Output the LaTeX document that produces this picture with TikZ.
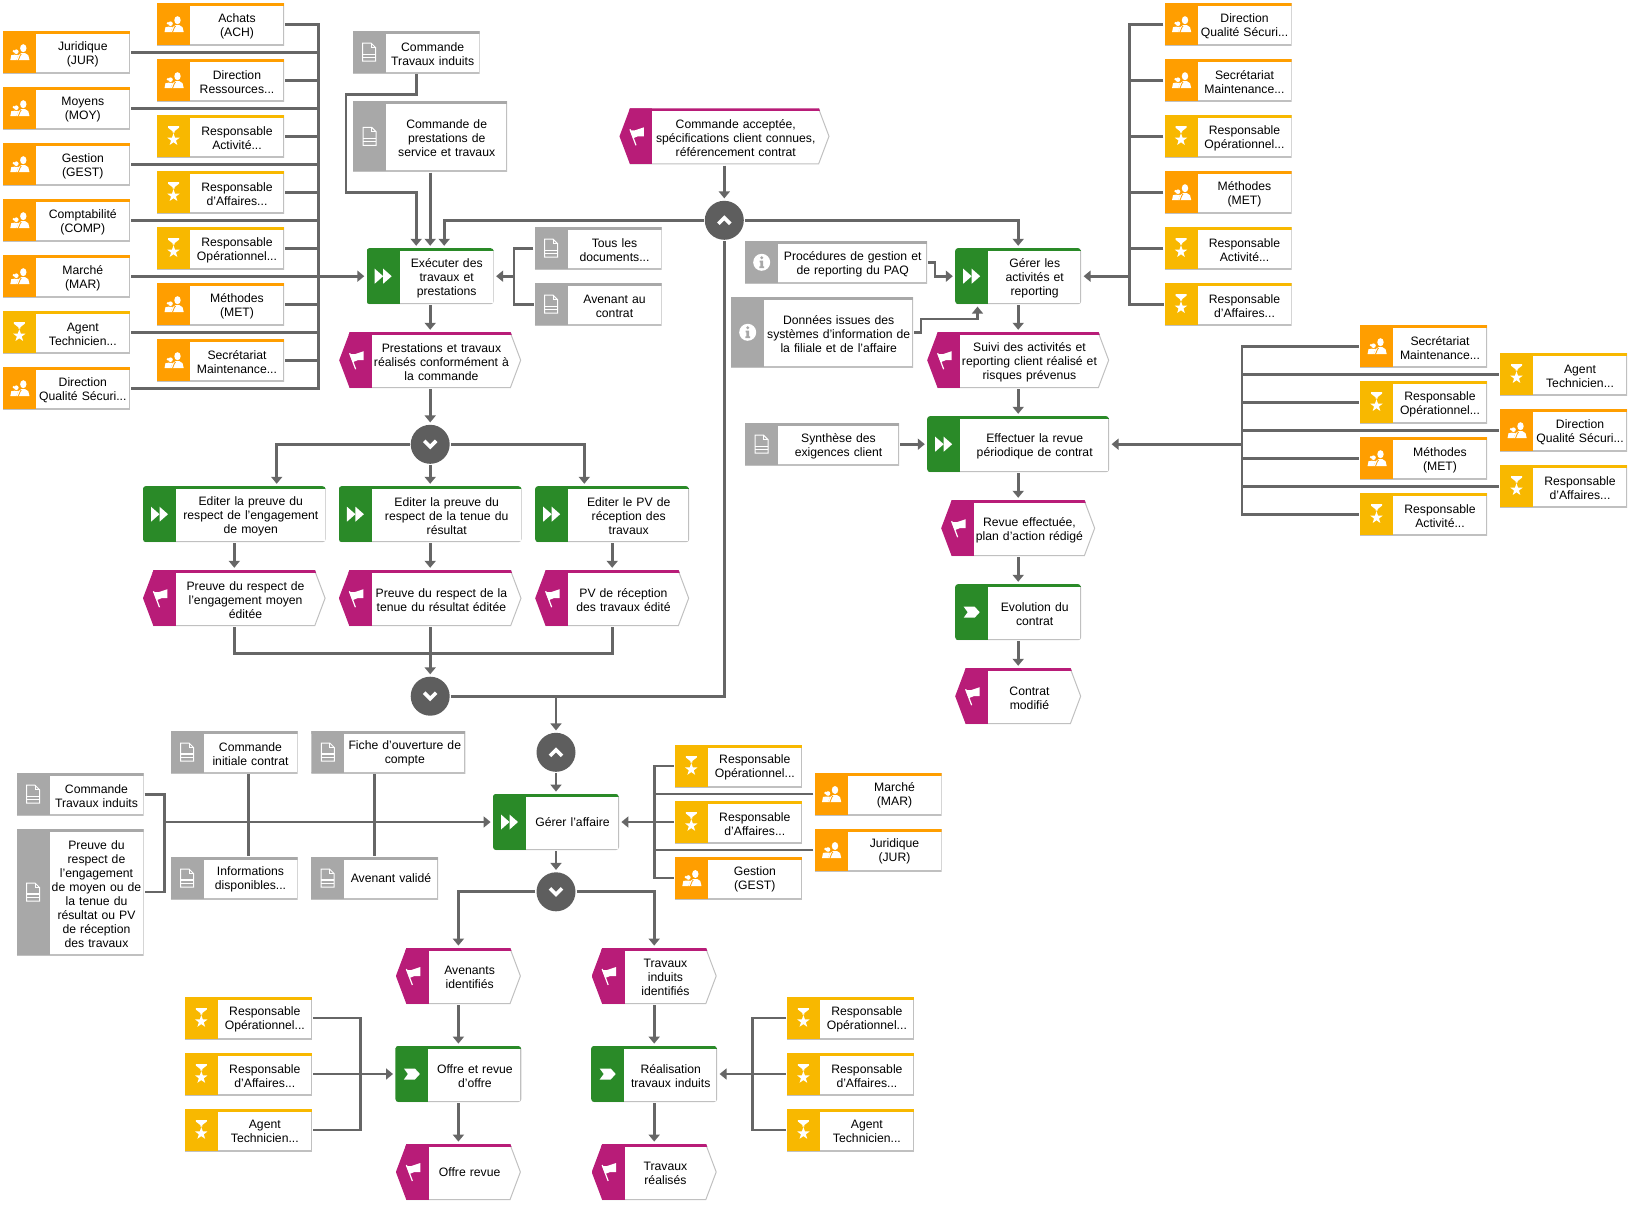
\documentclass[tikz,border=0pt]{standalone}
\usepackage{fontspec}
\setmainfont{Liberation Sans}
\usetikzlibrary{arrows.meta, positioning, shapes.symbols}
\definecolor{orgfill}{HTML}{FF9E00}
\definecolor{rolefill}{HTML}{F8B800}
\definecolor{docfill}{HTML}{A8A8A8}
\definecolor{taskfill}{HTML}{2A8A28}
\definecolor{eventfill}{HTML}{B81C78}
\definecolor{connfill}{HTML}{5E5E5E}
\definecolor{linefill}{HTML}{666666}
\definecolor{boxline}{HTML}{C0C0C0}
\tikzset{%
	peopleicon/.pic={
		\fill[white] (4,-4) ellipse (3.2 and 4);
		\fill[white] (-3,8) -- (-1,3) -- (2,1) -- (6,1) -- (9,3) -- (10,7) -- (10,8) -- cycle;
		\fill[white] (-3,-0.5) circle (2.3);
		\fill[white] (-5.5,-1) circle (1.3);
		\fill[white] (-9,8) -- (-8,3) -- (-5,2.5) -- (-1,2.8) -- (-3,8) -- cycle;
		\draw[orgfill, line width=0.8pt] (-1,8) -- (1,3) -- (2,2);
	},
	staricon/.pic={
		\fill[white] (-5.5,-10) -- (5.5,-10) -- (5.5,-8.5) -- (1,-5) -- (1,-3.5) -- (-1,-3.5) -- (-1,-5) -- (-5.5,-8.5) -- cycle;
		\fill[white, shift={(0,3.5)}] (-90:6.5) -- (-54:2.6) -- (-18:6.5) -- (18:2.6) -- (54:6.5) -- (90:2.6) -- (126:6.5) -- (162:2.6) -- (198:6.5) -- (234:2.6) -- cycle;
	},
	docicon/.pic={
		\draw[white, line width=1pt] (-6.5,-9) -- (2,-9) -- (6.5,-4.5) -- (6.5,9) -- (-6.5,9) -- cycle;
		\draw[white, line width=1pt] (2,-9) -- (2,-4.5) -- (6.5,-4.5);
		\draw[white, line width=1.3pt] (-6.5,2) -- (6.5,2);
		\draw[white, line width=1.3pt] (-6.5,5.5) -- (6.5,5.5);
	},
	infoicon/.pic={
		\fill[white] (0,0) circle (8.5);
		\fill[docfill] (0,-4.5) circle (1.6);
		\fill[docfill] (-2.2,-1.6) -- (1.4,-1.6) -- (1.4,4) -- (2.4,4) -- (2.4,5.8) -- (-2.4,5.8) -- (-2.4,4) -- (-1.4,4) -- (-1.4,0) -- (-2.2,0) -- cycle;
	},
	flagicon/.pic={
		\fill[white] (-7,-6) -- (-2,-6) -- (7,-9) -- (7,0) -- (1,0) -- (-4,2) -- cycle;
		\draw[white, line width=1.2pt] (-7,-7) -- (-1,9);
	},
	fasticon/.pic={
		\fill[white, sharp corners] (-8.5,-7.5) -- (0,0) -- (-8.5,7.5) -- cycle;
		\fill[white, sharp corners] (0,-7.5) -- (8.5,0) -- (0,7.5) -- cycle;
	},
	stepicon/.pic={
		\fill[white, sharp corners] (-8,-5.5) -- (3,-5.5) -- (8,0) -- (3,5.5) -- (-8,5.5) -- (-4,0) -- cycle;
	},
	upicon/.pic={
		\draw[white, line width=3.6pt] (-6,3.5) -- (0,-2.5) -- (6,3.5);
	},
	downicon/.pic={
		\draw[white, line width=3.6pt] (-6,-3.5) -- (0,2.5) -- (6,-3.5);
	},
	wd/.style={minimum width=#1, text width=#1},
	tall/.style={minimum height=#1},
	element/.style 2 args={rectangle, inner sep=0pt, outer sep=0pt, align=center, fill=white,
		minimum height=42pt, wd=127pt,
		execute at begin node={\advance\leftskip by 33pt\relax},
		execute at end node={\par\kern-3.4pt},
		path picture={
			\draw[boxline, line width=2pt, sharp corners] (path picture bounding box.south west) -- (path picture bounding box.south east) -- (path picture bounding box.north east);
			\fill[#1, sharp corners] (path picture bounding box.north west) rectangle ([xshift=33pt]path picture bounding box.south west);
			\fill[#1, sharp corners] (path picture bounding box.north west) rectangle ([yshift=-3pt]path picture bounding box.north east);
			\pic at ([xshift=16.5pt]path picture bounding box.west) {#2};
		}},
	orgbox/.style={element={orgfill}{peopleicon}},
	rolebox/.style={element={rolefill}{staricon}},
	docbox/.style={element={docfill}{docicon}},
	infobox/.style={element={docfill}{infoicon}},
	task/.style={element={taskfill}{fasticon}, rounded corners=3pt, minimum height=56pt},
	substep/.style={element={taskfill}{stepicon}, rounded corners=3pt, minimum height=56pt},
	event/.style={signal, signal to=east and west, signal pointer angle=138.8,
		inner sep=0pt, outer sep=0pt, align=center, fill=white, minimum height=56pt, minimum width=#1, text width=#1-21pt,
		execute at begin node={\advance\leftskip by 22.5pt\relax},
		execute at end node={\par\kern-3.4pt},
		path picture={
			\draw[boxline, line width=2pt] (path picture bounding box.south west) -- ([xshift=-10.5pt]path picture bounding box.south east) -- (path picture bounding box.east) -- ([xshift=-10.5pt]path picture bounding box.north east);
			\fill[eventfill] (path picture bounding box.north west) rectangle ([xshift=33pt]path picture bounding box.south west);
			\fill[eventfill] (path picture bounding box.north west) rectangle ([yshift=-3pt]path picture bounding box.north east);
			\pic at ([xshift=17.5pt]path picture bounding box.west) {flagicon};
		}},
	conn/.style={circle, inner sep=0pt, outer sep=0pt, minimum size=39pt, fill=connfill,
		path picture={\pic at (path picture bounding box.center) {#1};}},
	connector/.style={line width=2.7pt, draw=linefill, shorten >=1pt, shorten <=1.2pt},
	flow/.style={connector, shorten >=2.4pt, -{Triangle[length=7pt, width=11pt]}}
}
\begin{document}
\begin{tikzpicture}[x=1pt, y=-1pt, node distance=14pt, font=\fontsize{12.2}{14}\selectfont]
	\useasboundingbox (0,0) rectangle (1634,1208);

	%units around the first task
	\node[orgbox] (jur) at (66.3,52.2) {Juridique\\(JUR)};
	\node[orgbox, below=of jur] (moy) {Moyens\\(MOY)};
	\node[orgbox, below=of moy] (gest) {Gestion\\(GEST)};
	\node[orgbox, below=of gest] (comp) {Comptabilité\\(COMP)};
	\node[orgbox, below=of comp] (mar) {Marché\\(MAR)};
	\node[rolebox, below=of mar] (agt) {Agent\\Technicien...};
	\node[orgbox, below=of agt] (dirq) {Direction\\Qualité Sécuri...};
	\node[orgbox] (ach) at (220.5,24.2) {Achats\\(ACH)};
	\node[orgbox, below=of ach] (dirr) {Direction\\Ressources...};
	\node[rolebox, below=of dirr] (ract) {Responsable\\Activité...};
	\node[rolebox, below=of ract] (raff) {Responsable\\d'Affaires...};
	\node[rolebox, below=of raff] (rop) {Responsable\\Opérationnel...};
	\node[orgbox, below=of rop] (met) {Méthodes\\(MET)};
	\node[orgbox, below=of met] (sec) {Secrétariat\\Maintenance...};

	%first task
	\node[docbox] (cmdtr) at (416.2,52.2) {Commande\\Travaux induits};
	\node[docbox, wd=154pt, tall=70pt] (cmdpr) at (430.2,136.3) {Commande de\\prestations de\\service et travaux};
	\node[task] (exec) at (430.2,276.2) {Exécuter des\\travaux et\\prestations};
	\node[docbox] (tous) at (598,248.2) {Tous les\\documents...};
	\node[docbox, below=of tous] (avc) {Avenant au\\contrat};
	\node[event=182pt] (prest) at (430.2,360.2) {Prestations et travaux\\réalisés conformément à\\la commande};
	\node[conn=downicon] (c2) at (430.2,444.3) {};

	%proofs
	\node[task, wd=182.6pt] (edit1) at (234.3,514.2) {Editer la preuve du\\respect de l'engagement\\de moyen};
	\node[task, wd=182.6pt] (edit2) at (430.2,514.2) {Editer la preuve du\\respect de la tenue du\\résultat};
	\node[task, wd=154pt] (edit3) at (612.2,514.2) {Editer le PV de\\réception des\\travaux};
	\node[event=182.6pt] (pv1) at (234.3,598.2) {Preuve du respect de\\l'engagement moyen\\éditée};
	\node[event=182.6pt] (pv2) at (430.2,598.2) {Preuve du respect de la\\tenue du résultat éditée};
	\node[event=154pt] (pv3) at (612.2,598.2) {PV de réception\\des travaux édité};
	\node[conn=downicon] (c3) at (430.2,696.2) {};

	%contract side
	\node[event=210pt] (acc) at (724.5,136.3) {Commande acceptée,\\spécifications client connues,\\référencement contrat};
	\node[conn=upicon] (c1) at (724.3,220.3) {};
	\node[task, wd=126pt] (gerer) at (1018.2,276.2) {Gérer les\\activités et\\reporting};
	\node[infobox, wd=182pt] (proc) at (836.2,262.3) {Procédures de gestion et\\de reporting du PAQ};
	\node[infobox, wd=182pt, tall=70pt] (don) at (822.2,332.3) {Données issues des\\systèmes d'information de\\la filiale et de l'affaire};
	\node[event=182pt] (suivi) at (1018.2,360.2) {Suivi des activités et\\reporting client réalisé et\\risques prévenus};
	\node[task, wd=182pt] (eff) at (1018.2,444.2) {Effectuer la revue\\périodique de contrat};
	\node[docbox, wd=154pt] (syn) at (822,444.2) {Synthèse des\\exigences client};
	\node[event=154pt] (rev) at (1018.2,528.2) {Revue effectuée,\\plan d'action rédigé};
	\node[substep, wd=126pt] (evo) at (1018.2,612.2) {Evolution du\\contrat};
	\node[event=126pt] (ctr) at (1018.2,696.2) {Contrat\\modifié};

	%units of the second task
	\node[orgbox] (gdirq) at (1228,24.2) {Direction\\Qualité Sécuri...};
	\node[orgbox, below=of gdirq] (gsec) {Secrétariat\\Maintenance...};
	\node[rolebox, below=of gsec] (grop) {Responsable\\Opérationnel...};
	\node[orgbox, below=of grop] (gmet) {Méthodes\\(MET)};
	\node[rolebox, below=of gmet] (gract) {Responsable\\Activité...};
	\node[rolebox, below=of gract] (graff) {Responsable\\d'Affaires...};

	%units of the review
	\node[orgbox] (esec) at (1423.5,346.2) {Secrétariat\\Maintenance...};
	\node[rolebox, below=of esec] (erop) {Responsable\\Opérationnel...};
	\node[orgbox, below=of erop] (emet) {Méthodes\\(MET)};
	\node[rolebox, below=of emet] (eract) {Responsable\\Activité...};
	\node[rolebox] (eagt) at (1563.5,374.2) {Agent\\Technicien...};
	\node[orgbox, below=of eagt] (edirq) {Direction\\Qualité Sécuri...};
	\node[rolebox, below=of edirq] (eraff) {Responsable\\d'Affaires...};

	%managing the case
	\node[conn=upicon] (c4) at (556,752.3) {};
	\node[task, wd=126pt] (aff) at (556,822) {Gérer l'affaire};
	\node[conn=downicon] (c5) at (556,891.8) {};
	\node[docbox] (ini) at (234,752) {Commande\\initiale contrat};
	\node[docbox, wd=154pt] (fic) at (388.3,752) {Fiche d'ouverture de\\compte};
	\node[docbox] (inf) at (234,878) {Informations\\disponibles...};
	\node[docbox] (avv) at (374.5,878) {Avenant validé};
	\node[docbox] (ctr2) at (80,794.2) {Commande\\Travaux induits};
	\node[docbox, tall=126pt] (prv) at (80,892) {Preuve du\\respect de\\l'engagement\\de moyen ou de\\la tenue du\\résultat ou PV\\de réception\\des travaux};
	\node[rolebox] (arop) at (738.3,766) {Responsable\\Opérationnel...};
	\node[rolebox, below=of arop] (araff) {Responsable\\d'Affaires...};
	\node[orgbox, below=of araff] (agest) {Gestion\\(GEST)};
	\node[orgbox] (amar) at (878,794) {Marché\\(MAR)};
	\node[orgbox, below=of amar] (ajur) {Juridique\\(JUR)};

	%offer and induced works
	\node[event=125pt] (avi) at (458.4,976) {Avenants\\identifiés};
	\node[substep, wd=126pt] (off) at (458.4,1074) {Offre et revue\\d'offre};
	\node[event=125pt] (ofr) at (458.4,1172) {Offre revue};
	\node[event=125pt] (tri) at (654.2,976) {Travaux\\induits\\identifiés};
	\node[substep, wd=126pt] (rea) at (654.2,1074) {Réalisation\\travaux induits};
	\node[event=125pt] (trr) at (654.2,1172) {Travaux\\réalisés};
	\node[rolebox] (orop) at (248.3,1018) {Responsable\\Opérationnel...};
	\node[rolebox, below=of orop] (oraff) {Responsable\\d'Affaires...};
	\node[rolebox, below=of oraff] (oagt) {Agent\\Technicien...};
	\node[rolebox] (rrop) at (850.4,1018) {Responsable\\Opérationnel...};
	\node[rolebox, below=of rrop] (rraff) {Responsable\\d'Affaires...};
	\node[rolebox, below=of rraff] (ragt) {Agent\\Technicien...};

	%bus lines and bends
	\coordinate (busa) at (318.5,0);
	\coordinate (busb) at (514,0);
	\coordinate (busc) at (430.2,653.7);
	\coordinate (busd) at (1129.5,0);
	\coordinate (buse) at (1242,0);
	\coordinate (busf) at (164.5,0);
	\coordinate (busg) at (654.4,0);
	\coordinate (bush) at (360.6,0);
	\coordinate (busi) at (752.3,0);
	\coordinate (ta) at (346,94.3);
	\coordinate (tb) at (346,192.3);
	\coordinate (bendp) at (935,262.3);
	\coordinate (bendd) at (921,332.3);
	\coordinate (bendq) at (977.5,319);

	%first task
	\draw[connector] (ach.east) -- (ach.east -| busa) -- (dirq.east -| busa) -- (dirq.east);
	\draw[connector] (jur.east) -- (jur.east -| busa);
	\draw[connector] (dirr.east) -- (dirr.east -| busa);
	\draw[connector] (moy.east) -- (moy.east -| busa);
	\draw[connector] (ract.east) -- (ract.east -| busa);
	\draw[connector] (gest.east) -- (gest.east -| busa);
	\draw[connector] (raff.east) -- (raff.east -| busa);
	\draw[connector] (comp.east) -- (comp.east -| busa);
	\draw[connector] (rop.east) -- (rop.east -| busa);
	\draw[connector] (met.east) -- (met.east -| busa);
	\draw[connector] (agt.east) -- (agt.east -| busa);
	\draw[connector] (sec.east) -- (sec.east -| busa);
	\draw[flow] (mar.east) -- (exec.west);
	\draw[flow] (cmdtr.south) |- (ta) -- (tb) -| ([xshift=-14pt]exec.north);
	\draw[flow] (cmdpr.south) -- (exec.north);
	\draw[flow] (c1.west) -| ([xshift=14pt]exec.north);
	\draw[connector] (tous.west) -- (tous.west -| busb) -- (avc.west -| busb) -- (avc.west);
	\draw[flow] (exec.east -| busb) -- (exec.east);
	\draw[flow] (exec.south) -- (prest.north);
	\draw[flow] (prest.south) -- (c2.north);

	%proofs
	\draw[flow] (c2.west) -| ([xshift=42.4pt]edit1.north);
	\draw[flow] (c2.south) -- (edit2.north);
	\draw[flow] (c2.east) -| ([xshift=-27.9pt]edit3.north);
	\draw[flow] (edit1.south) -- (pv1.north);
	\draw[flow] (edit2.south) -- (pv2.north);
	\draw[flow] (edit3.south) -- (pv3.north);
	\draw[connector] (pv1.south) |- (busc) -| (pv3.south);
	\draw[flow] (pv2.south) -- (c3.north);
	\draw[connector] (c3.east) -| (c1.south);
	\draw[flow] (c3.east) -| (c4.north);

	%contract side
	\draw[flow] (acc.south -| c1.north) -- (c1.north);
	\draw[flow] (c1.east) -| (gerer.north);
	\draw[flow] (proc.east) -- (bendp) |- (gerer.west);
	\draw[flow] (don.east) -- (bendd) |- (bendq) -- (bendq |- gerer.south);
	\draw[flow] (gerer.south) -- (suivi.north);
	\draw[flow] (suivi.south) -- (eff.north);
	\draw[flow] (syn.east) -- (eff.west);
	\draw[flow] (eff.south) -- (rev.north);
	\draw[flow] (rev.south) -- (evo.north);
	\draw[flow] (evo.south) -- (ctr.north);
	\draw[connector] (gdirq.west) -- (gdirq.west -| busd) -- (graff.west -| busd) -- (graff.west);
	\draw[connector] (gsec.west) -- (gsec.west -| busd);
	\draw[connector] (grop.west) -- (grop.west -| busd);
	\draw[connector] (gmet.west) -- (gmet.west -| busd);
	\draw[connector] (gract.west) -- (gract.west -| busd);
	\draw[flow] (gerer.east -| busd) -- (gerer.east);
	\draw[connector] (esec.west) -- (esec.west -| buse) -- (eract.west -| buse) -- (eract.west);
	\draw[connector] (erop.west) -- (erop.west -| buse);
	\draw[connector] (emet.west) -- (emet.west -| buse);
	\draw[connector] (eagt.west) -- (eagt.west -| buse);
	\draw[connector] (edirq.west) -- (edirq.west -| buse);
	\draw[connector] (eraff.west) -- (eraff.west -| buse);
	\draw[flow] (eff.east -| buse) -- (eff.east);

	%managing the case
	\draw[flow] (c4.south) -- (aff.north);
	\draw[flow] (aff.south) -- (c5.north);
	\draw[connector] (ctr2.east) -- (ctr2.east -| busf) -- (prv.east -| busf) -- (prv.east);
	\draw[flow] (aff.west -| busf) -- (aff.west);
	\draw[connector] ([xshift=14.3pt]ini.south) -- ([xshift=14.3pt]inf.north);
	\draw[connector] (avv.north) -- (avv.north |- fic.south);
	\draw[connector] (arop.west) -- (arop.west -| busg) -- (agest.west -| busg) -- (agest.west);
	\draw[connector] (araff.west) -- (araff.west -| busg);
	\draw[connector] (amar.west) -- (amar.west -| busg);
	\draw[connector] (ajur.west) -- (ajur.west -| busg);
	\draw[flow] (aff.east -| busg) -- (aff.east);
	\draw[flow] (c5.west) -| (avi.north);
	\draw[flow] (c5.east) -| (tri.north);

	%offer and induced works
	\draw[flow] (avi.south) -- (off.north);
	\draw[flow] (off.south) -- (ofr.north);
	\draw[flow] (tri.south) -- (rea.north);
	\draw[flow] (rea.south) -- (trr.north);
	\draw[connector] (orop.east) -- (orop.east -| bush) -- (oagt.east -| bush) -- (oagt.east);
	\draw[flow] (oraff.east) -- (off.west);
	\draw[connector] (rrop.west) -- (rrop.west -| busi) -- (ragt.west -| busi) -- (ragt.west);
	\draw[flow] (rraff.west) -- (rea.east);
\end{tikzpicture}
\end{document}
